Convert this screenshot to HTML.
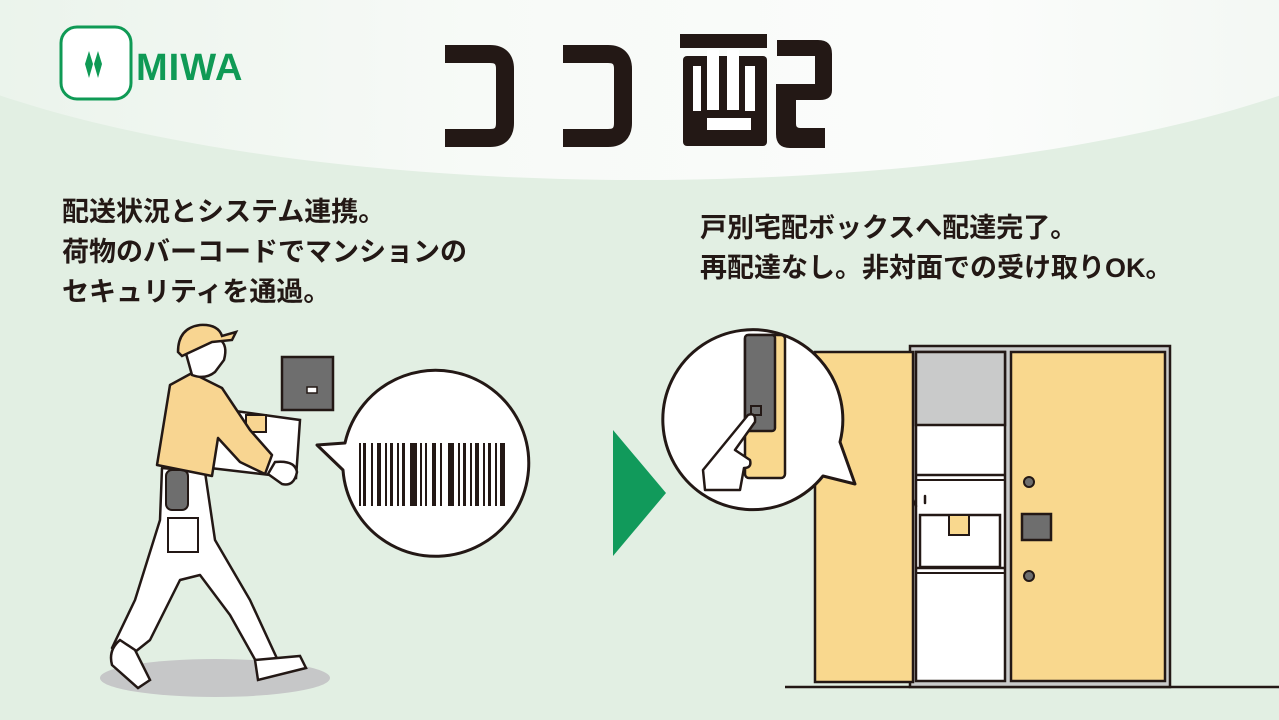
<!DOCTYPE html>
<html><head><meta charset="utf-8"><style>
html,body{margin:0;padding:0}
body{width:1279px;height:720px;overflow:hidden;position:relative;background:#e2efe3;font-family:"Liberation Sans","Noto Sans CJK JP",sans-serif}
.hdr{position:absolute;left:-200px;top:-300px;width:1680px;height:480px;border-radius:0 0 50% 50%;background:linear-gradient(90deg,#e6f1e7 0%,#f7faf7 40%,#fbfcfb 70%,#eef5ef 100%)}
.t{position:absolute;font-weight:bold;color:#231815;font-size:27px;line-height:40px;letter-spacing:0px}
svg{position:absolute;left:0;top:0}
</style></head><body>
<div class="hdr"></div>
<div class="t" style="left:62px;top:192px;">配送状況とシステム連携。<br>荷物のバーコードでマンションの<br>セキュリティを通過。</div>
<div class="t" style="left:700px;top:208px;">戸別宅配ボックスへ配達完了。<br>再配達なし。非対面での受け取りOK。</div>
<svg width="1279" height="720" viewBox="0 0 1279 720">
<!-- logo -->
<rect x="61" y="27" width="70" height="72" rx="16" fill="#fff" stroke="#0f9a55" stroke-width="3"/>
<path d="M89 51 L93 64 L89 78 L85 64Z M98 51 L102 64 L98 78 L94 64Z" fill="#0f9a55"/>
<text x="136" y="80" font-family="Liberation Sans" font-weight="bold" font-size="38" fill="#0f9a55" letter-spacing="1">MIWA</text>
<!-- title -->
<g fill="none" stroke="#231815" stroke-width="18" stroke-linejoin="round">
<path d="M445 54 H490 Q505 54 505 69 V123 Q505 138 490 138 H445"/>
<path d="M563 54 H608 Q623 54 623 69 V123 Q623 138 608 138 H563"/>
</g>
<g fill="#231815">
<rect x="680" y="34" width="87" height="14"/>
<rect x="683" y="56" width="84" height="90" rx="4"/>
<path d="M777 40 H818 Q832 40 832 54 V90 Q832 100 820 100 H796 V124 Q796 128 800 128 H825 V148 H790 Q776 148 776 134 V84 H815 V56 H777Z"/>
</g>
<g fill="#fff">
<rect x="693" y="66" width="8" height="45"/><rect x="707" y="50" width="12" height="60"/><rect x="727" y="50" width="12" height="60"/><rect x="745" y="66" width="10" height="45"/>
<rect x="707" y="118" width="44" height="12"/>
</g>
<!-- shadow -->
<ellipse cx="215" cy="678" rx="115" ry="19" fill="#c6c7c8"/>
<!-- pants -->
<path d="M162 468 L205 472 L215 540 L250 600 L280 665 L262 672 L230 615 L200 575 L180 580 L150 640 L125 660 L112 648 L135 600 L160 520Z" fill="#fff" stroke="#231815" stroke-width="2.5" stroke-linejoin="round"/>
<path d="M120 640 Q108 650 112 665 L138 688 L150 680 L135 650Z" fill="#fff" stroke="#231815" stroke-width="2.5"/>
<path d="M255 660 L300 656 L306 668 L258 680Z" fill="#fff" stroke="#231815" stroke-width="2.5"/>
<rect x="166" y="470" width="22" height="40" rx="6" fill="#6e6e6e" stroke="#231815" stroke-width="2"/>
<rect x="168" y="518" width="30" height="34" fill="#fff" stroke="#231815" stroke-width="2"/>
<!-- box -->
<path d="M228 410 L300 420 L296 478 L210 468 L215 412Z" fill="#fff" stroke="#231815" stroke-width="2.5"/>
<rect x="246" y="415" width="20" height="17" fill="#f8d591" stroke="#231815" stroke-width="2"/>
<!-- torso -->
<path d="M157 465 L170 385 L192 373 L222 388 L250 430 L272 455 L265 474 L240 462 L218 438 L212 476 Z" fill="#f8d591" stroke="#231815" stroke-width="2.5" stroke-linejoin="round"/>
<path d="M275 462 Q295 460 297 472 Q294 487 282 484 L268 474Z" fill="#fff" stroke="#231815" stroke-width="2.5"/>
<!-- head -->
<path d="M185 350 L192 375 Q205 380 215 372 L224 360 Q228 345 220 340 L188 345Z" fill="#fff" stroke="#231815" stroke-width="2.5"/>
<path d="M178 352 Q178 328 200 325 Q218 324 222 336 L236 332 L232 340 L212 342 L182 356Z" fill="#f8d591" stroke="#231815" stroke-width="2.5"/>
<!-- panel -->
<rect x="282" y="357" width="51" height="53" fill="#6e6e6e" stroke="#231815" stroke-width="2.5"/>
<rect x="307" y="387" width="10" height="6" fill="#fff" stroke="#231815" stroke-width="1.5"/>
<!-- barcode bubble -->
<path d="M317 445 L345 443 A93 93 0 1 1 343 470 Z" fill="#fff" stroke="#231815" stroke-width="3" stroke-linejoin="round"/>
<g fill="#231815">
<rect x="359" y="443" width="2" height="63"/><rect x="363" y="443" width="3" height="63"/><rect x="371" y="443" width="2" height="63"/><rect x="377" y="443" width="4" height="63"/><rect x="385" y="443" width="2" height="63"/><rect x="390" y="443" width="3" height="63"/><rect x="397" y="443" width="2" height="63"/><rect x="402" y="443" width="3" height="63"/><rect x="410" y="443" width="7" height="63"/><rect x="420" y="443" width="2" height="63"/><rect x="425" y="443" width="2" height="63"/><rect x="432" y="443" width="4" height="63"/><rect x="440" y="443" width="2" height="63"/><rect x="448" y="443" width="6" height="63"/><rect x="458" y="443" width="2" height="63"/><rect x="463" y="443" width="3" height="63"/><rect x="470" y="443" width="2" height="63"/><rect x="475" y="443" width="4" height="63"/><rect x="483" y="443" width="2" height="63"/><rect x="488" y="443" width="3" height="63"/><rect x="495" y="443" width="2" height="63"/><rect x="500" y="443" width="5" height="63"/>
</g>
<!-- arrow -->
<path d="M613 430 L666 493 L613 556Z" fill="#119a5b"/>
<!-- locker -->
<line x1="785" y1="687" x2="1279" y2="687" stroke="#231815" stroke-width="2.5"/>
<rect x="910" y="346" width="260" height="341" fill="#c9caca" stroke="#231815" stroke-width="2.5"/>
<rect x="1011" y="352" width="154" height="329" fill="#f9d88e" stroke="#231815" stroke-width="2.5"/>
<rect x="916" y="352" width="89" height="329" fill="#fff" stroke="#231815" stroke-width="2.5"/>
<rect x="916" y="352" width="89" height="73" fill="#c9caca" stroke="#231815" stroke-width="2.5"/>
<line x1="916" y1="475" x2="1005" y2="475" stroke="#231815" stroke-width="2.5"/>
<line x1="916" y1="480" x2="1005" y2="480" stroke="#231815" stroke-width="2"/>
<line x1="916" y1="568" x2="1005" y2="568" stroke="#231815" stroke-width="2.5"/>
<line x1="916" y1="573" x2="1005" y2="573" stroke="#231815" stroke-width="2"/>
<rect x="920" y="515" width="80" height="52" fill="#fff" stroke="#231815" stroke-width="2.5"/>
<rect x="949" y="515" width="20" height="20" fill="#f9d88e" stroke="#231815" stroke-width="2"/>
<g stroke="#231815" stroke-width="2.5" stroke-linecap="round"><line x1="902" y1="508" x2="910" y2="513"/><line x1="913" y1="500" x2="916" y2="506"/><line x1="925" y1="496" x2="925" y2="503"/></g>
<rect x="815" y="352" width="98" height="330" fill="#f9d88e" stroke="#231815" stroke-width="2.5"/>
<circle cx="1029" cy="482" r="5" fill="#6e6e6e" stroke="#231815" stroke-width="2"/>
<circle cx="1029" cy="576" r="5" fill="#6e6e6e" stroke="#231815" stroke-width="2"/>
<rect x="1022" y="514" width="29" height="26" fill="#6e6e6e" stroke="#231815" stroke-width="2.5"/>
<!-- lock bubble -->
<path d="M855 484 L823 476 A90 90 0 1 1 840 442 Z" fill="#fff" stroke="#231815" stroke-width="3" stroke-linejoin="round"/>
<rect x="745" y="335" width="40" height="143" rx="4" fill="#f9d88e" stroke="#231815" stroke-width="2.5"/>
<rect x="745" y="335" width="30" height="96" rx="3" fill="#6e6e6e" stroke="#231815" stroke-width="2.5"/>
<rect x="751" y="406" width="10" height="9" fill="#6e6e6e" stroke="#231815" stroke-width="2"/>
<path d="M703 470 L748 415 Q756 412 755 422 L735 450 L750 460 Q752 468 744 468 L740 490 L705 490Z" fill="#fff" stroke="#231815" stroke-width="2.5" stroke-linejoin="round"/>
</svg>
</body></html>
